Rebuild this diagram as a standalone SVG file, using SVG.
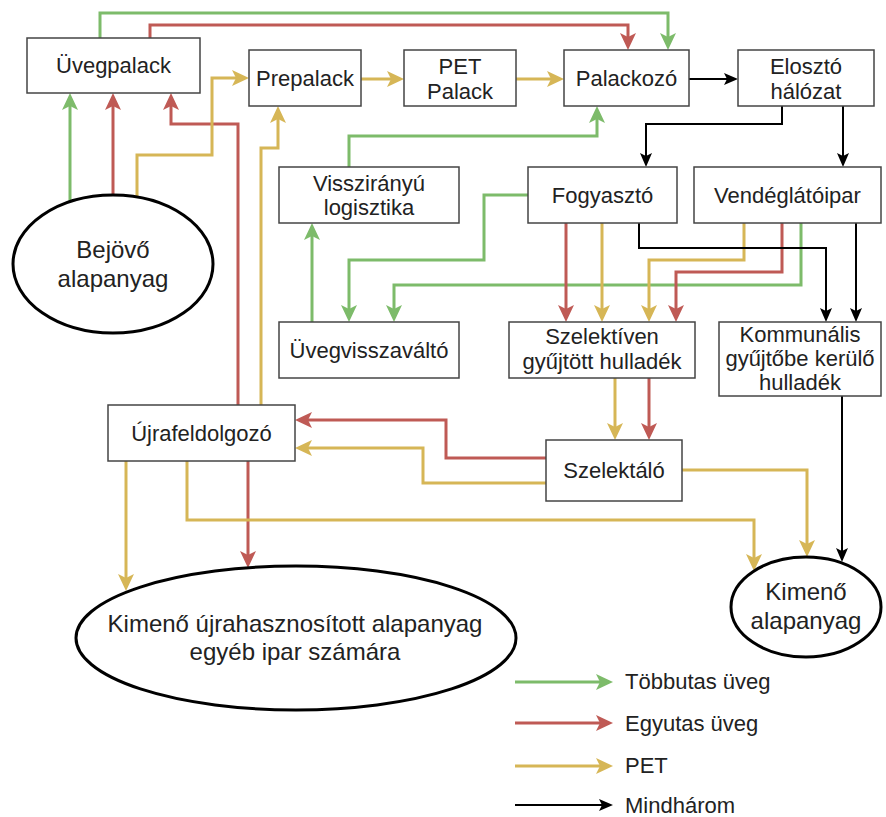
<svg xmlns="http://www.w3.org/2000/svg" width="886" height="817" viewBox="0 0 886 817">
<style>
.box{fill:#fff;stroke:#444;stroke-width:1.5}
.ell{fill:#fff;stroke:#000;stroke-width:3}
text{font-family:"Liberation Sans",Arial,sans-serif;fill:#222;text-anchor:middle}
.t{font-size:22px}
.te{font-size:24px}
.lg{font-size:22px;text-anchor:start}
.c{fill:none;stroke-linejoin:miter}
.g{stroke:#7dbb6a;stroke-width:3;marker-end:url(#ag)}
.r{stroke:#bf5a55;stroke-width:3;marker-end:url(#ar)}
.y{stroke:#d6b656;stroke-width:3;marker-end:url(#ay)}
.k{stroke:#000;stroke-width:2;marker-end:url(#ak)}
</style>
<defs>
<marker id="ag" markerUnits="userSpaceOnUse" markerWidth="17" markerHeight="16" refX="13" refY="8" orient="auto"><path d="M0,0 L17,8 L0,16 L4,8 Z" fill="#7dbb6a"/></marker>
<marker id="ar" markerUnits="userSpaceOnUse" markerWidth="17" markerHeight="16" refX="13" refY="8" orient="auto"><path d="M0,0 L17,8 L0,16 L4,8 Z" fill="#bf5a55"/></marker>
<marker id="ay" markerUnits="userSpaceOnUse" markerWidth="17" markerHeight="16" refX="13" refY="8" orient="auto"><path d="M0,0 L17,8 L0,16 L4,8 Z" fill="#d6b656"/></marker>
<marker id="ak" markerUnits="userSpaceOnUse" markerWidth="14" markerHeight="12" refX="11" refY="6" orient="auto"><path d="M0,0 L14,6 L0,12 L3,6 Z" fill="#000"/></marker>
</defs>

<g id="connectors" class="c">
<path class="c g" d="M70,202 V97"/>
<path class="c g" d="M100,38 V13 H668 V46"/>
<path class="c g" d="M349,167 V136 H597 V110"/>
<path class="c g" d="M312,322 V227"/>
<path class="c g" d="M528,195 H484 V260 H349 V318"/>
<path class="c g" d="M801,223 V285 H394 V318"/>

<path class="c r" d="M113,195 V97"/>
<path class="c r" d="M150,38 V25 H628 V46"/>
<path class="c r" d="M238,405 V124 H171 V97"/>
<path class="c r" d="M248,461 V564"/>
<path class="c r" d="M566,223 V318"/>
<path class="c r" d="M782,223 V272 H676 V318"/>
<path class="c r" d="M649,378 V436"/>
<path class="c r" d="M546,458 H446 V420 H299"/>

<path class="c y" d="M137,197 V155 H212 V78 H245"/>
<path class="c y" d="M361,79 H400"/>
<path class="c y" d="M516,79 H560"/>
<path class="c y" d="M261,405 V148 H278 V110"/>
<path class="c y" d="M602,223 V318"/>
<path class="c y" d="M744,223 V260 H649 V318"/>
<path class="c y" d="M615,378 V436"/>
<path class="c y" d="M546,483 H423 V448 H299"/>
<path class="c y" d="M126,461 V587"/>
<path class="c y" d="M187,461 V520 H754 V567"/>
<path class="c y" d="M682,470 H807 V553"/>

<path class="c k" d="M689,79 H735"/>
<path class="c k" d="M782,106 V124 H646 V164"/>
<path class="c k" d="M843,106 V164"/>
<path class="c k" d="M639,223 V248 H826 V319"/>
<path class="c k" d="M856,223 V319"/>
<path class="c k" d="M842,396 V559"/>
</g>

<g id="uvegpalack"><rect class="box" x="27" y="38" width="173" height="55"/><text class="t" x="113.5" y="73">Üvegpalack</text></g>
<g id="prepalack"><rect class="box" x="249" y="50" width="112" height="56"/><text class="t" x="305" y="86">Prepalack</text></g>
<g id="petpalack"><rect class="box" x="404" y="50" width="112" height="56"/><text class="t" x="460" y="74">PET</text><text class="t" x="460" y="99">Palack</text></g>
<g id="palackozo"><rect class="box" x="564" y="50" width="125" height="56"/><text class="t" x="626.5" y="86">Palackozó</text></g>
<g id="eloszto"><rect class="box" x="738" y="50" width="136" height="56"/><text class="t" x="806" y="74">Elosztó</text><text class="t" x="806" y="99">hálózat</text></g>
<g id="visszianyu"><rect class="box" x="279" y="167" width="180" height="56"/><text class="t" x="369" y="191">Visszirányú</text><text class="t" x="369" y="215">logisztika</text></g>
<g id="fogyaszto"><rect class="box" x="528" y="167" width="149" height="56"/><text class="t" x="602.5" y="203">Fogyasztó</text></g>
<g id="vendeglatoipar"><rect class="box" x="694" y="167" width="187" height="56"/><text class="t" x="787.5" y="203">Vendéglátóipar</text></g>
<g id="uvegvisszavalto"><rect class="box" x="279" y="322" width="180" height="56"/><text class="t" x="369" y="358">Üvegvisszaváltó</text></g>
<g id="szelektiven"><rect class="box" x="509" y="322" width="186" height="56"/><text class="t" x="602" y="344">Szelektíven</text><text class="t" x="602" y="369">gyűjtött hulladék</text></g>
<g id="kommunalis"><rect class="box" x="719" y="322" width="162" height="74"/><text class="t" x="800" y="342">Kommunális</text><text class="t" x="800" y="366">gyűjtőbe kerülő</text><text class="t" x="800" y="390">hulladék</text></g>
<g id="ujrafeldolgozo"><rect class="box" x="108" y="405" width="187" height="56"/><text class="t" x="201.5" y="441">Újrafeldolgozó</text></g>
<g id="szelektalo"><rect class="box" x="546" y="440" width="136" height="61"/><text class="t" x="614" y="478">Szelektáló</text></g>
<g id="bejovo"><ellipse class="ell" cx="113" cy="264" rx="100" ry="69"/><text class="te" x="113" y="258">Bejövő</text><text class="te" x="113" y="287">alapanyag</text></g>
<g id="kimeno-ujra"><ellipse class="ell" cx="296" cy="638" rx="220" ry="72"/><text class="te" x="295" y="632">Kimenő újrahasznosított alapanyag</text><text class="te" x="295" y="660">egyéb ipar számára</text></g>
<g id="kimeno-alap"><ellipse class="ell" cx="806" cy="607" rx="75" ry="50"/><text class="te" x="806" y="600">Kimenő</text><text class="te" x="806" y="629">alapanyag</text></g>

<g id="legend">
<path class="c g" d="M515,682 H609"/>
<path class="c r" d="M515,723 H609"/>
<path class="c y" d="M515,766 H609"/>
<path class="c k" d="M515,805 H610"/>
<text class="lg" x="625" y="689">Többutas üveg</text>
<text class="lg" x="625" y="731">Egyutas üveg</text>
<text class="lg" x="625" y="773">PET</text>
<text class="lg" x="625" y="813">Mindhárom</text>
</g>
</svg>
